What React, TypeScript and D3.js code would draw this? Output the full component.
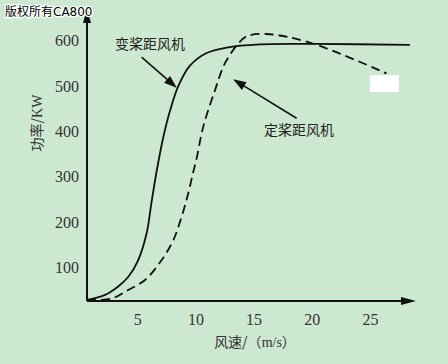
import React, { useEffect } from "react";
import * as d3 from "d3";

// wind speed (m/s) vs power (kW)
const pitchWind = [0.65, 2.2, 3.3, 4.2, 5.05, 5.77, 6.2, 6.63, 7.2, 7.77, 8.49, 9.49, 10.92, 12.64, 15.5, 20.05, 28.37];
const pitchPower = [28, 39, 57, 79, 116, 175, 245, 312, 387, 445, 500, 545, 573, 585, 592, 593, 591];

const stallWind = [0.65, 2.77, 4.19, 5.63, 7.06, 8.06, 8.78, 9.34, 9.77, 10.06, 10.63, 11.64, 12.49, 13.64, 14.36, 16.07, 19.79, 26.37];
const stallPower = [28, 31, 50, 72, 116, 160, 212, 263, 310, 340, 410, 491, 550, 594, 610, 615, 596, 528];

const xTicks = [5, 10, 15, 20, 25];
const yTicks = [100, 200, 300, 400, 500, 600];

const width = 448;
const height = 364;

export default function App() {
  useEffect(() => {
    document.body.style.margin = "0";
  }, []);

  const x = d3.scaleLinear().domain([0.65, 28.9]).range([87, 416]);
  const y = d3.scaleLinear().domain([25.6, 668]).range([301, 10]);

  const line = d3
    .line<[number, number]>()
    .x((d) => x(d[0]))
    .y((d) => y(d[1]))
    .curve(d3.curveCatmullRom.alpha(0.5));

  const pitchPath = line(pitchWind.map((w, i) => [w, pitchPower[i]]));
  const stallPath = line(stallWind.map((w, i) => [w, stallPower[i]]));

  const serif = "'Liberation Serif', 'DejaVu Serif', serif";
  const cjk = "'Noto Sans CJK SC', sans-serif";

  // arrow from label to curve
  const arrow = (x1: number, y1: number, x2: number, y2: number, key: string) => {
    const px1 = x(x1), py1 = y(y1), px2 = x(x2), py2 = y(y2);
    const ang = Math.atan2(py2 - py1, px2 - px1);
    const len = 13, half = 4.5;
    const bx = px2 - len * Math.cos(ang), by = py2 - len * Math.sin(ang);
    const pts = [
      [px2, py2],
      [bx + half * Math.sin(ang), by - half * Math.cos(ang)],
      [bx - half * Math.sin(ang), by + half * Math.cos(ang)],
    ];
    return (
      <g key={key}>
        <line x1={px1} y1={py1} x2={bx} y2={by} stroke="#111" strokeWidth={1.6} />
        <polygon points={pts.map((p) => p.join(",")).join(" ")} fill="#111" />
      </g>
    );
  };

  return (
    <svg width={width} height={height} style={{ display: "block" }}>
      <rect width={width} height={height} fill="#cde8d0" />

      {/* curves */}
      <path d={pitchPath || ""} fill="none" stroke="#111" strokeWidth={1.8} />
      <path d={stallPath || ""} fill="none" stroke="#111" strokeWidth={1.8} strokeDasharray="9,5" />

      {/* white box */}
      <rect x={x(24.94)} y={y(524)} width={x(27.43) - x(24.94)} height={y(487) - y(524)} fill="#fff" />

      {/* axes */}
      <line x1={x.range()[0]} y1={y.range()[0]} x2={x.range()[0]} y2={20} stroke="#111" strokeWidth={2} />
      <polygon points={`${x.range()[0]},${y.range()[1] - 2} ${x.range()[0] - 4},${y.range()[1] + 13} ${x.range()[0] + 4},${y.range()[1] + 13}`} fill="#111" />
      <line x1={x.range()[0]} y1={y.range()[0]} x2={x.range()[1] - 10} y2={y.range()[0]} stroke="#111" strokeWidth={2} />
      <polygon points={`${x.range()[1]},${y.range()[0]} ${x.range()[1] - 15},${y.range()[0] - 4} ${x.range()[1] - 15},${y.range()[0] + 4}`} fill="#111" />

      {yTicks.map((t) => (
        <text key={t} x={79} y={y(t)} dy="0.35em" textAnchor="end" fontFamily={serif} fontSize={16} fill="#333">
          {t}
        </text>
      ))}
      {xTicks.map((t) => (
        <text key={t} x={x(t)} y={319} dy="0.35em" textAnchor="middle" fontFamily={serif} fontSize={16} fill="#333">
          {t}
        </text>
      ))}

      <text x={255} y={342} dy="0.35em" textAnchor="middle" fontFamily={cjk} fontSize={14} fill="#333">
        风速/（<tspan fontFamily={serif}>m/s</tspan>）
      </text>
      <text transform="translate(37,123) rotate(-90)" dy="0.35em" textAnchor="middle" fontFamily={cjk} fontSize={14} fill="#333">
        功率/<tspan fontFamily={serif}>KW</tspan>
      </text>

      {/* annotations */}
      <text x={x(6.06)} y={y(593)} dy="0.35em" textAnchor="middle" fontFamily={cjk} fontSize={14} fill="#222">
        变桨距风机
      </text>
      <text x={x(18.85)} y={y(403)} dy="0.35em" textAnchor="middle" fontFamily={cjk} fontSize={14} fill="#222">
        定桨距风机
      </text>
      {arrow(5.34, 564, 8.37, 496, "a1")}
      {arrow(18.65, 429, 13.2, 515, "a2")}

      {/* watermark */}
      <text x={5} y={12} dy="0.35em" fontFamily="'DejaVu Sans', 'Noto Sans CJK SC', sans-serif" fontSize={12} fill="#000" stroke="#fff" strokeWidth={2.5} style={{ paintOrder: "stroke" }}>
        版权所有CA800
      </text>
    </svg>
  );
}
